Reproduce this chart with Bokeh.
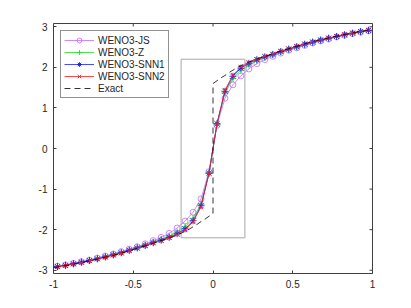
from math import pi
from bokeh.plotting import figure
from bokeh.models import Range1d, FixedTicker, Label
from bokeh.embed import file_html
from bokeh.resources import INLINE

# ---------------- data ----------------
x_cells = [-0.975, -0.925, -0.875, -0.825, -0.775, -0.725, -0.675, -0.625, -0.575, -0.525,
           -0.475, -0.425, -0.375, -0.325, -0.275, -0.225, -0.175, -0.125, -0.075, -0.025,
           0.025, 0.075, 0.125, 0.175, 0.225, 0.275, 0.325, 0.375, 0.425, 0.475,
           0.525, 0.575, 0.625, 0.675, 0.725, 0.775, 0.825, 0.875, 0.925, 0.975]

u_weno3_js = [-2.90, -2.87, -2.83, -2.79, -2.75, -2.70, -2.65, -2.60, -2.54, -2.48,
              -2.42, -2.35, -2.27, -2.19, -2.09, -1.96, -1.79, -1.57, -1.24, -0.57,
              0.57, 1.24, 1.57, 1.79, 1.96, 2.09, 2.19, 2.27, 2.35, 2.42,
              2.48, 2.54, 2.60, 2.65, 2.70, 2.75, 2.79, 2.83, 2.87, 2.90]

u_weno3_z = [-2.91, -2.87, -2.84, -2.80, -2.76, -2.71, -2.67, -2.62, -2.56, -2.50,
             -2.44, -2.38, -2.31, -2.24, -2.16, -2.06, -1.93, -1.72, -1.37, -0.60,
             0.60, 1.37, 1.72, 1.93, 2.06, 2.16, 2.24, 2.31, 2.38, 2.44,
             2.50, 2.56, 2.62, 2.67, 2.71, 2.76, 2.80, 2.84, 2.87, 2.91]

u_weno3_snn1 = [-2.91, -2.88, -2.84, -2.80, -2.76, -2.72, -2.67, -2.62, -2.57, -2.51,
                -2.45, -2.39, -2.32, -2.26, -2.19, -2.10, -1.98, -1.78, -1.41, -0.61,
                0.61, 1.41, 1.78, 1.98, 2.10, 2.19, 2.26, 2.32, 2.39, 2.45,
                2.51, 2.57, 2.62, 2.67, 2.72, 2.76, 2.80, 2.84, 2.88, 2.91]

u_weno3_snn2 = [-2.92, -2.88, -2.85, -2.81, -2.77, -2.72, -2.68, -2.63, -2.58, -2.52,
                -2.46, -2.40, -2.33, -2.27, -2.20, -2.12, -2.01, -1.81, -1.44, -0.61,
                0.61, 1.44, 1.81, 2.01, 2.12, 2.20, 2.27, 2.33, 2.40, 2.46,
                2.52, 2.58, 2.63, 2.68, 2.72, 2.77, 2.81, 2.85, 2.88, 2.92]

x_exact = [-1.0, -0.95, -0.9, -0.85, -0.8, -0.75, -0.7, -0.65, -0.6, -0.55, -0.5, -0.45,
           -0.4, -0.35, -0.3, -0.25, -0.2, -0.175, -0.15, -0.125, -0.1, -0.075, -0.05,
           -0.025, 0.0, 0.0, 0.025, 0.05, 0.075, 0.1, 0.125, 0.15, 0.175, 0.2, 0.25,
           0.3, 0.35, 0.4, 0.45, 0.5, 0.55, 0.6, 0.65, 0.7, 0.75, 0.8, 0.85, 0.9, 0.95, 1.0]
u_exact = [-2.94, -2.90, -2.87, -2.83, -2.79, -2.75, -2.70, -2.66, -2.61, -2.55, -2.49, -2.43,
           -2.37, -2.30, -2.24, -2.17, -2.09, -2.04, -1.99, -1.93, -1.87, -1.80, -1.74,
           -1.67, -1.60, 1.60, 1.67, 1.74, 1.80, 1.87, 1.93, 1.99, 2.04, 2.09, 2.17,
           2.24, 2.30, 2.37, 2.43, 2.49, 2.55, 2.61, 2.66, 2.70, 2.75, 2.79, 2.83, 2.87, 2.90, 2.94]

# zoom-region box
box_x = [-0.2, 0.2]
box_y = [-2.2, 2.2]

x_lim = [-1, 1]
y_lim = [-3.08, 3.08]
x_ticks = [-1, -0.5, 0, 0.5, 1]
x_tick_labels = ["-1", "-0.5", "0", "0.5", "1"]
y_ticks = [-3, -2, -1, 0, 1, 2, 3]
y_tick_labels = ["-3", "-2", "-1", "0", "1", "2", "3"]

series_names = ["WENO3-JS", "WENO3-Z", "WENO3-SNN1", "WENO3-SNN2", "Exact"]

# ---------------- figure ----------------
FONT = "Liberation Sans"
AX = "#404040"
TXT = "#262626"

p = figure(width=411, height=308, output_backend="svg", toolbar_location=None,
           x_range=Range1d(*x_lim), y_range=Range1d(*y_lim),
           min_border_left=53, min_border_right=39, min_border_top=23,
           min_border_bottom=35, title_location=None)
p.background_fill_color = "white"
p.border_fill_color = "white"
p.outline_line_color = AX
p.outline_line_width = 1
p.xgrid.visible = False
p.ygrid.visible = False

def style_axis(ax, ticks, labels):
    ax.ticker = FixedTicker(ticks=ticks)
    ax.axis_line_color = None
    ax.major_tick_in = 3
    ax.major_tick_out = 0
    ax.major_tick_line_color = AX
    ax.minor_tick_line_color = None
    ax.major_label_overrides = {t: l for t, l in zip(ticks, labels)}
    ax.major_label_text_font = FONT
    ax.major_label_text_font_size = "10px"
    ax.major_label_text_color = TXT
    ax.major_label_standoff = 6

style_axis(p.xaxis[0], x_ticks, x_tick_labels)
style_axis(p.yaxis[0], y_ticks, y_tick_labels)

# box ticks on top and right edges (inward, clipped to the frame)
p.scatter(x_ticks, [y_lim[1]] * len(x_ticks), marker="dash", angle=pi / 2, size=6,
          line_color=AX, line_width=1)
p.scatter([x_lim[1]] * len(y_ticks), y_ticks, marker="dash", size=6,
          line_color=AX, line_width=1)

# zoom box
p.quad(left=box_x[0], right=box_x[1], bottom=box_y[0], top=box_y[1],
       fill_color=None, line_color="#a8a8a8", line_width=1)

c_js = "#c46cf0"
c_z = "#22dd22"
c_snn1 = "#1a1aff"
c_snn2 = "#ff1a1a"

p.line(x_cells, u_weno3_js, line_color=c_js, line_width=0.8, legend_label=series_names[0])
p.scatter(x_cells, u_weno3_js, marker="circle", size=6, fill_color=None,
          line_color=c_js, line_width=0.8, legend_label=series_names[0])

p.line(x_cells, u_weno3_z, line_color=c_z, line_width=0.8, legend_label=series_names[1])
p.scatter(x_cells, u_weno3_z, marker="cross", size=7, line_color=c_z,
          line_width=0.9, legend_label=series_names[1])

p.line(x_cells, u_weno3_snn1, line_color=c_snn1, line_width=0.8, legend_label=series_names[2])
p.scatter(x_cells, u_weno3_snn1, marker="asterisk", size=7, line_color=c_snn1,
          line_width=0.9, legend_label=series_names[2])

p.line(x_cells, u_weno3_snn2, line_color=c_snn2, line_width=0.8, legend_label=series_names[3])
p.scatter(x_cells, u_weno3_snn2, marker="x", size=6, line_color=c_snn2,
          line_width=0.9, legend_label=series_names[3])

p.line(x_exact, u_exact, line_color="black", line_width=0.8, line_dash="6 4",
       legend_label=series_names[4])

lg = p.legend[0]
lg.location = "top_left"
lg.margin = 7
lg.padding = 3
lg.spacing = 0
lg.label_height = 12
lg.glyph_height = 12
lg.glyph_width = 30
lg.label_standoff = 4
lg.label_text_font = FONT
lg.label_text_font_size = "10px"
lg.label_text_color = TXT
lg.border_line_color = TXT
lg.border_line_width = 1
lg.background_fill_color = "white"
lg.background_fill_alpha = 1.0

# axis titles
p.add_layout(Label(x=0, y=-3.70, text="x", text_font=FONT, text_font_size="11px",
                   text_color=TXT, text_align="center", text_baseline="middle"))
p.add_layout(Label(x=-1.1285, y=0, text="u", text_font=FONT, text_font_size="11px",
                   text_color=TXT, text_align="center", text_baseline="middle",
                   angle=pi / 2))

open("out.html", "w").write(file_html(p, INLINE))
